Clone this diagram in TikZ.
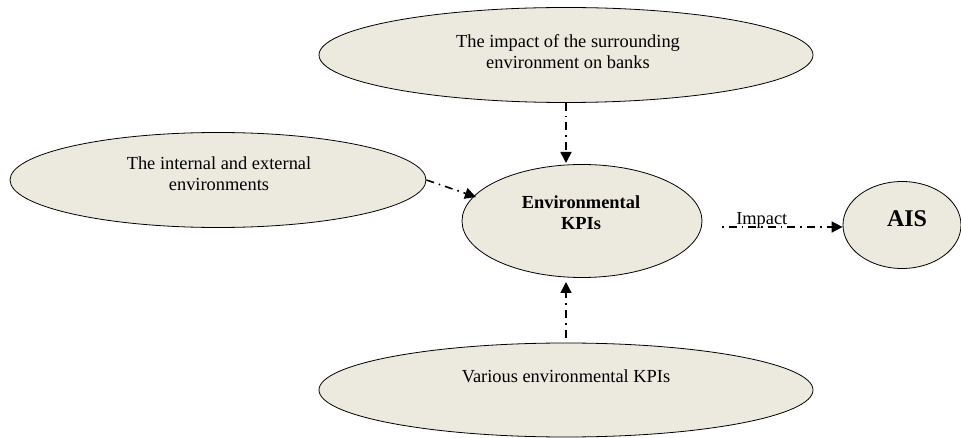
\documentclass[tikz,border=0pt]{standalone}
\usepackage{fontspec}
\setmainfont{Liberation Serif}
\usetikzlibrary{shapes.geometric,arrows.meta}
\definecolor{shade}{RGB}{236,233,223}
\begin{document}
\begin{tikzpicture}[x=1pt,y=-1pt,
  oval/.style={ellipse,draw=black,line width=0.8pt,fill=shade,inner sep=0pt},
  txt/.style={font=\fontsize{18.4}{21}\selectfont,align=center,inner sep=0pt},
  flow/.style={line width=1.6pt,dash pattern=on 8pt off 5pt on 1.6pt off 5pt,
    -{Triangle[length=11pt,width=11pt]}}]
\useasboundingbox (0,0) rectangle (961,438);

% outer factors
\node[oval,minimum width=494pt,minimum height=95pt] (top) at (566,55) {};
\node[txt] (toptxt) at (568,52) {The impact of the surrounding\\environment on banks};

\node[oval,minimum width=416pt,minimum height=95pt] (left) at (218,180) {};
\node[txt] (lefttxt) at (219,174) {The internal and external\\environments};

\node[oval,minimum width=494pt,minimum height=94pt] (bot) at (566,390) {};
\node[txt] (bottxt) at (566,376) {Various environmental KPIs};

% central concept and result
\node[oval,minimum width=240pt,minimum height=113pt] (ctr) at (582,221) {};
\node[txt,font=\fontsize{18.4}{21}\selectfont\bfseries] (ctrtxt) at (581,213) {Environmental\\KPIs};

\node[oval,minimum width=118pt,minimum height=87pt] (ais) at (902,225) {};
\node[txt,font=\fontsize{24}{28}\selectfont\bfseries] (aistxt) at (907,219) {AIS};

% connectors
\coordinate (topend) at (566,163);
\coordinate (botend) at (566,282);
\coordinate (leftend) at (476,197);
\coordinate (impstart) at (722,227);
\draw[flow] (top.south) -- (topend);
\draw[flow,dash phase=-5pt] (bot.north) -- (botend);
\draw[flow] (left.east) -- (leftend);
\draw[flow,dash pattern=on 1.6pt off 5pt on 8pt off 5pt] (impstart) -- (ais.west |- impstart)
  node[pos=0.33,anchor=south,yshift=-2pt,font=\fontsize{18.4}{21}\selectfont,inner sep=0pt] (implbl) {Impact};
\end{tikzpicture}
\end{document}
